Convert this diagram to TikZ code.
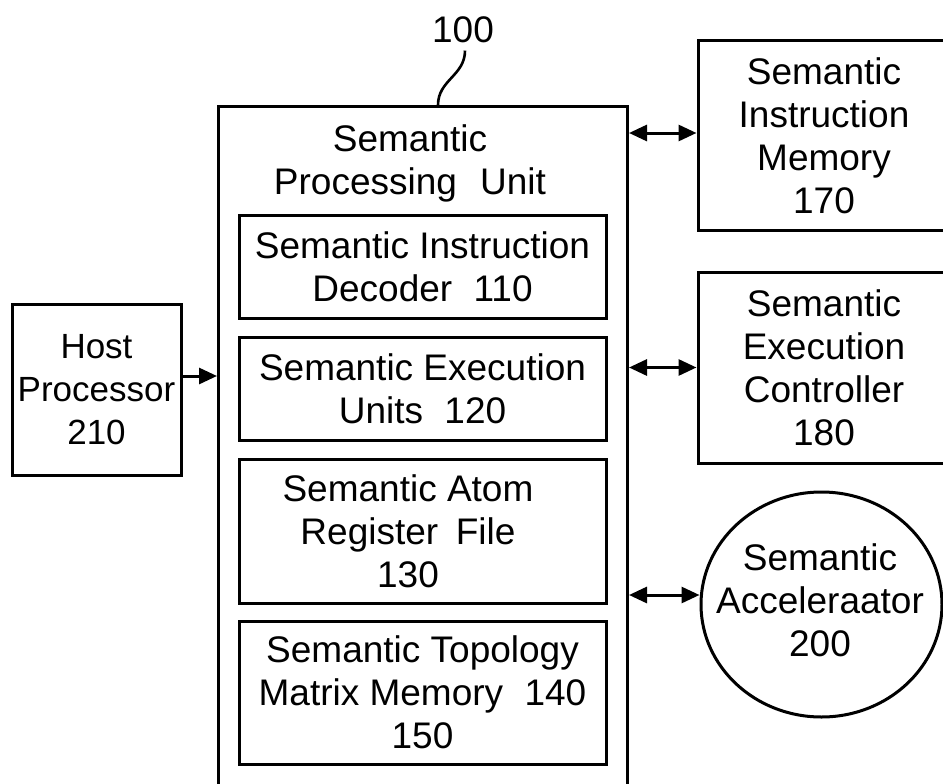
\documentclass[tikz,border=0pt]{standalone}
\usepackage{fontspec}
\setmainfont{Liberation Sans}
\usetikzlibrary{arrows.meta,shapes.geometric}
\begin{document}
\begin{tikzpicture}[x=1pt,y=-1pt,
  box/.style={draw, line width=3pt, rectangle, inner sep=0pt, align=center, font=\fontsize{37}{43}\selectfont},
  oval/.style={draw, line width=3pt, ellipse, inner sep=0pt},
  lbl/.style={inner sep=0pt, align=center, font=\fontsize{37}{43}\selectfont},
  arr/.style={line width=3pt, -{Triangle[length=18pt,width=16pt]}},
  darr/.style={line width=3pt, {Triangle[length=18pt,width=16pt]}-{Triangle[length=18pt,width=16pt]}},
  wire/.style={line width=2.6pt},
]
\useasboundingbox (0,0) rectangle (943,784);
\clip (0,0) rectangle (943,784);

% outer unit
\node[box, minimum width=409pt, minimum height=720pt, anchor=north west] (spu) at (217,105) {};
\node[lbl, anchor=north] (spuT) at (410,124) {Semantic\\Processing\hspace{0.35em} Unit};

% inner blocks
\node[box, minimum width=367pt, minimum height=103pt] (dec) at (422.5,266.5) {Semantic Instruction\\Decoder\hspace{0.3em} 110};
\node[box, minimum width=367pt, minimum height=103pt] (exu) at (422.5,388.5) {Semantic Execution\\Units\hspace{0.3em} 120};
\node[box, minimum width=367pt, minimum height=144pt] (arf) at (422.5,531) {};
\node[lbl] (arfT) at (408,531) {Semantic Atom\\Register\hspace{0.2em} File\\130};
\node[box, minimum width=367pt, minimum height=143pt] (tmm) at (422.5,692.5) {Semantic Topology\\Matrix Memory\hspace{0.3em} 140\\150};

% host
\node[box, minimum width=169pt, minimum height=171pt, font=\fontsize{35}{43}\selectfont] (host) at (96.5,389.5) {Host\\Processor\\210};

% right side
\node[box, minimum width=252pt, minimum height=189pt] (sim) at (824,135.5) {Semantic\\Instruction\\Memory\\170};
\node[box, minimum width=252pt, minimum height=191pt] (sec) at (824,367.5) {Semantic\\Execution\\Controller\\180};
\node[oval, minimum width=241pt, minimum height=225pt] (acc) at (821.5,604.5) {};
\node[lbl] (accT) at (820,600) {Semantic\\Acceleraator\\200};

% reference label
\node[lbl, anchor=base] (l100) at (463,43) {100};
\coordinate (t100) at (438,105);
\draw[wire] ([xshift=2pt,yshift=-7pt]l100.south) .. controls +(0,25) and +(0,-25) .. (t100);

% connectors
\draw[arr] ([yshift=13.5pt]host.east) coordinate (h1) -- (h1 -| spu.west);
\draw[darr] ([yshift=2.5pt]sim.west) coordinate (s1) -- (s1 -| spu.east);
\draw[darr] (sec.west) -- (sec.west -| spu.east);
\draw[darr] ([yshift=9.5pt]acc.west) coordinate (a1) -- (a1 -| spu.east);
\end{tikzpicture}
\end{document}
